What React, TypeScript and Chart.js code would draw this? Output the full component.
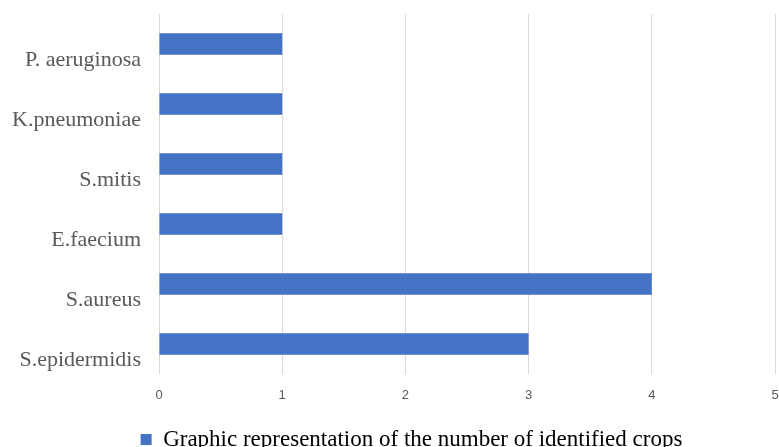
import React, { useEffect, useRef } from "react";
import { Chart, registerables } from "chart.js";

Chart.register(...registerables);

const categories = ["P. aeruginosa", "K.pneumoniae", "S.mitis", "E.faecium", "S.aureus", "S.epidermidis"];
const values = [1, 1, 1, 1, 4, 3];
const seriesLabel = "Graphic representation of the number of identified crops";

const legendShift = {
  id: "legendShift",
  afterLayout(chart: any) {
    if (chart.legend) {
      chart.legend.left += 24;
      chart.legend.right += 24;
    }
  },
};

export default function App() {
  const ref = useRef<HTMLCanvasElement | null>(null);
  useEffect(() => {
    if (!ref.current) return;
    const chart = new Chart(ref.current, {
      type: "bar",
      data: {
        labels: categories,
        datasets: [
          {
            label: seriesLabel,
            data: values,
            backgroundColor: "#4472C4",
            borderWidth: 0,
            categoryPercentage: 1,
            barPercentage: 0.355,
          },
        ],
      },
      plugins: [legendShift],
      options: {
        indexAxis: "y",
        animation: false,
        responsive: true,
        maintainAspectRatio: false,
        layout: { padding: { top: 14, right: 4, left: 0, bottom: -14 } },
        plugins: {
          tooltip: { enabled: false },
          legend: {
            position: "bottom",
            labels: {
              boxWidth: 11,
              boxHeight: 11,
              padding: 0,
              color: "#000000",
              font: { family: "Liberation Serif", size: 23 },
            },
          },
        },
        scales: {
          x: {
            min: 0,
            max: 5,
            ticks: {
              stepSize: 1,
              padding: 14,
              color: "#595959",
              font: { family: "Liberation Sans", size: 13 },
            },
            grid: { color: "#d9d9d9", drawTicks: false },
            border: { display: false },
            afterFit: (s: any) => {
              s.height = 54;
              s.paddingLeft = 0;
              s.paddingRight = 0;
            },
          },
          y: {
            ticks: {
              padding: 18,
              labelOffset: 16,
              color: "#595959",
              font: { family: "Liberation Serif", size: 22 },
            },
            grid: { display: false, drawTicks: false },
            border: { display: false },
            afterFit: (s: any) => {
              s.width = 159;
              s.paddingTop = 0;
              s.paddingBottom = 0;
            },
          },
        },
      },
    });
    return () => chart.destroy();
  }, []);
  return (
    <div style={{ position: "absolute", left: 0, top: 0, width: 779, height: 447 }}>
      <canvas ref={ref} />
    </div>
  );
}
